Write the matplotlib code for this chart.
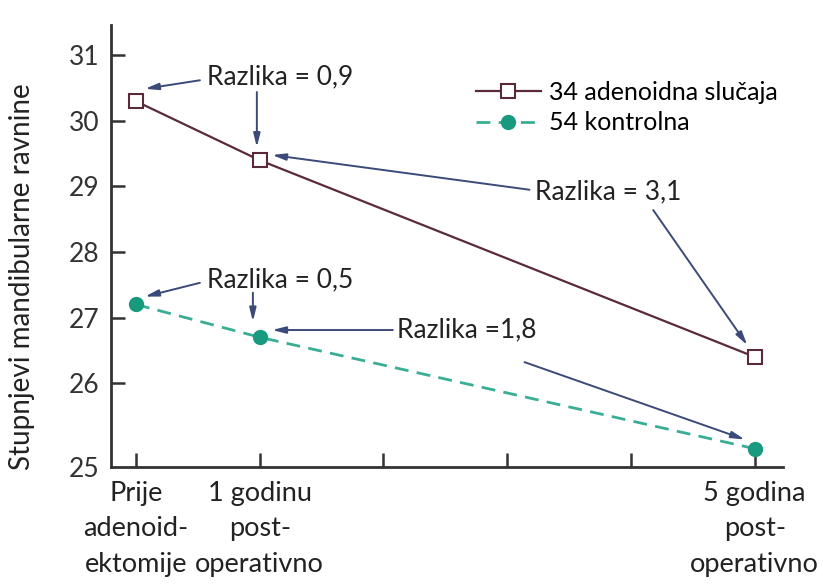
import matplotlib
matplotlib.use("Agg")
import matplotlib.pyplot as plt

# data
x_pos = [0, 1, 5]
adenoid = [30.3, 29.4, 26.4]
control = [27.2, 26.7, 25.0]
series_names = ["34 adenoidna slučaja", "54 kontrolna"]
tick_labels = ["Prije\nadenoid-\nektomije", "1 godinu\npost-\noperativno", "", "", "",
               "5 godina\npost-\noperativno"]
y_ticks = [26, 27, 28, 29, 30, 31]

# annotation labels: text, text position, list of (start, end) arrows
notes = [
    ("Razlika = 0,9", (0.574, 30.67), [((0.517, 30.62), (0.073, 30.49)),
                                        ((0.977, 30.44), (0.977, 29.60))]),
    ("Razlika = 3,1", (3.223, 28.92), [((3.18, 28.95), (1.10, 29.48)),
                                        ((4.18, 28.64), (4.94, 26.58))]),
    ("Razlika = 0,5", (0.574, 27.57), [((0.517, 27.53), (0.073, 27.32)),
                                        ((0.945, 27.38), (0.945, 26.94))]),
    ("Razlika =1,8", (2.11, 26.81), [((2.076, 26.81), (1.10, 26.81)),
                                      ((3.14, 26.32), (4.92, 25.14))]),
]

plt.rcParams['font.family'] = ['Lato', 'DejaVu Sans']
maroon = '#5a2a3c'
teal = '#179a7e'
teal_line = '#3aae94'
arrow_col = '#3b4a78'
axis_col = '#333333'

fig = plt.figure(figsize=(8.23, 5.86), dpi=100)
ax = fig.add_axes([0.1345, 0.203, 0.8165, 0.754])

ax.plot(x_pos, adenoid, color=maroon, lw=1.6, marker='s', ms=10,
        mfc='white', mec=maroon, mew=1.5, label=series_names[0], zorder=3)
ax.plot(x_pos, control, color=teal_line, lw=2, ls=(0, (5, 3)), marker='o', ms=10,
        mfc=teal, mec=teal, label=series_names[1], zorder=3)

for txt, pos, arrows in notes:
    ax.text(pos[0], pos[1], txt, ha='left', va='center', fontsize=19, color='#222222')
    for start, end in arrows:
        ax.annotate('', xy=end, xytext=start,
                    arrowprops=dict(arrowstyle='-|>,head_length=0.8,head_width=0.2',
                                    color=arrow_col, lw=1.4, shrinkA=0, shrinkB=0))

ax.set_xlim(-0.204, 5.226)
ax.set_ylim(24.72, 31.46)
ax.set_xticks(range(6))
ax.set_xticklabels(tick_labels, fontsize=19.5, linespacing=1.52, color='#222222',
                   multialignment='center')
ax.set_yticks([24.72] + y_ticks)
ax.set_yticklabels(["25"] + [str(v) for v in y_ticks], fontsize=19, color='#333333')
ax.yaxis.get_major_ticks()[0].tick1line.set_visible(False)

ax.tick_params(axis='x', direction='in', length=10, width=1.8, color=axis_col, pad=10)
ax.tick_params(axis='y', direction='in', length=10, width=1.8, color=axis_col, pad=8)
for side in ['top', 'right']:
    ax.spines[side].set_visible(False)
for side in ['left', 'bottom']:
    ax.spines[side].set_linewidth(2)
    ax.spines[side].set_color(axis_col)

ax.set_ylabel("Stupnjevi mandibularne ravnine", fontsize=20, color='#222222')
ax.yaxis.set_label_coords(-0.113, 0.431)

fig.legend(loc='upper left', bbox_to_anchor=(0.578, 0.862), bbox_transform=fig.transFigure,
           frameon=False, fontsize=18, handlelength=2.6, handletextpad=0.35,
           labelspacing=0.3, borderpad=0, borderaxespad=0)

fig.savefig("out.png", dpi=100)
